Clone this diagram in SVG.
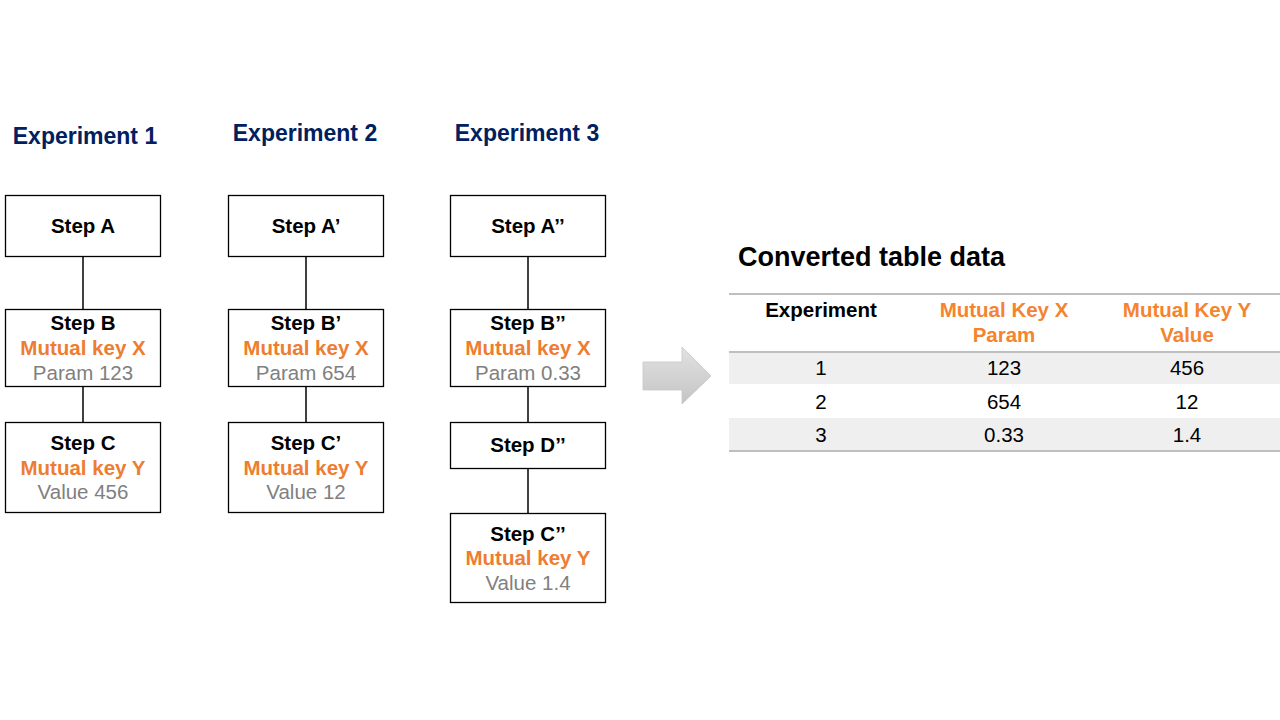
<svg xmlns="http://www.w3.org/2000/svg" width="1280" height="720" viewBox="0 0 1280 720">
<defs>
<style>
text{font-family:"Liberation Sans",Arial,sans-serif;text-anchor:middle}
.title{font-size:23px;font-weight:bold;fill:#002060}
.box{fill:#fff;stroke:#000;stroke-width:1.3}
.step{font-size:20.5px;font-weight:bold;fill:#000}
.key{font-size:20.5px;font-weight:bold;fill:#ED7D31}
.val{font-size:20.5px;fill:#808080}
.conn line{stroke:#000;stroke-width:1.5}
.th{font-size:20.5px;font-weight:bold;fill:#000}
.thk{font-size:20.5px;font-weight:bold;fill:#F4842F}
.td{font-size:20.5px;fill:#000}
.rule{stroke:#BFBFBF;stroke-width:2}
</style>
<linearGradient id="ag" x1="0" y1="0" x2="0" y2="1">
<stop offset="0" stop-color="#E2E2E2"/>
<stop offset="1" stop-color="#C4C4C4"/>
</linearGradient>
</defs>
<rect width="1280" height="720" fill="#fff"/>

<text class="title" x="85" y="144">Experiment 1</text>
<text class="title" x="305" y="141">Experiment 2</text>
<text class="title" x="527" y="141">Experiment 3</text>

<g class="conn" id="connectors">
<line x1="83" y1="256" x2="83" y2="309"/>
<line x1="83" y1="386" x2="83" y2="422"/>
<line x1="306" y1="256" x2="306" y2="309"/>
<line x1="306" y1="386" x2="306" y2="422"/>
<line x1="528" y1="256" x2="528" y2="309"/>
<line x1="528" y1="386" x2="528" y2="422"/>
<line x1="528" y1="468" x2="528" y2="513"/>
</g>

<g id="stepA">
<rect class="box" x="5.5" y="195.5" width="155" height="61"/>
<text class="step" x="83" y="233">Step A</text>
</g>
<g id="stepB">
<rect class="box" x="5.5" y="309.5" width="155" height="77"/>
<text class="step" x="83" y="330">Step B</text>
<text class="key" x="83" y="355">Mutual key X</text>
<text class="val" x="83" y="380">Param 123</text>
</g>
<g id="stepC">
<rect class="box" x="5.5" y="422.5" width="155" height="90"/>
<text class="step" x="83" y="450">Step C</text>
<text class="key" x="83" y="475">Mutual key Y</text>
<text class="val" x="83" y="499">Value 456</text>
</g>

<g id="stepA2">
<rect class="box" x="228.5" y="195.5" width="155" height="61"/>
<text class="step" x="306" y="233">Step A’</text>
</g>
<g id="stepB2">
<rect class="box" x="228.5" y="309.5" width="155" height="77"/>
<text class="step" x="306" y="330">Step B’</text>
<text class="key" x="306" y="355">Mutual key X</text>
<text class="val" x="306" y="380">Param 654</text>
</g>
<g id="stepC2">
<rect class="box" x="228.5" y="422.5" width="155" height="90"/>
<text class="step" x="306" y="450">Step C’</text>
<text class="key" x="306" y="475">Mutual key Y</text>
<text class="val" x="306" y="499">Value 12</text>
</g>

<g id="stepA3">
<rect class="box" x="450.5" y="195.5" width="155" height="61"/>
<text class="step" x="528" y="233">Step A’’</text>
</g>
<g id="stepB3">
<rect class="box" x="450.5" y="309.5" width="155" height="77"/>
<text class="step" x="528" y="330">Step B’’</text>
<text class="key" x="528" y="355">Mutual key X</text>
<text class="val" x="528" y="380">Param 0.33</text>
</g>
<g id="stepD3">
<rect class="box" x="450.5" y="422.5" width="155" height="46"/>
<text class="step" x="528" y="452">Step D’’</text>
</g>
<g id="stepC3">
<rect class="box" x="450.5" y="513.5" width="155" height="89"/>
<text class="step" x="528" y="541">Step C’’</text>
<text class="key" x="528" y="565">Mutual key Y</text>
<text class="val" x="528" y="590">Value 1.4</text>
</g>

<g id="arrow">
<polygon points="643,362 682,362 682,347 711,376 682,404 682,390 643,390" fill="url(#ag)" stroke="#C8C8C8" stroke-width="0.8"/>
</g>

<g id="table">
<text x="738" y="266" style="font-size:27px;font-weight:bold;fill:#000;text-anchor:start">Converted table data</text>
<rect x="729" y="352" width="551" height="32" fill="#EFEFEF"/>
<rect x="729" y="418" width="551" height="33" fill="#EFEFEF"/>
<line class="rule" x1="729" y1="294" x2="1280" y2="294"/>
<line class="rule" x1="729" y1="352" x2="1280" y2="352"/>
<line class="rule" x1="729" y1="451" x2="1280" y2="451"/>
<text class="th" x="821" y="317">Experiment</text>
<text class="thk" x="1004" y="317">Mutual Key X</text>
<text class="thk" x="1004" y="342">Param</text>
<text class="thk" x="1187" y="317">Mutual Key Y</text>
<text class="thk" x="1187" y="342">Value</text>
<text class="td" x="821" y="375">1</text>
<text class="td" x="1004" y="375">123</text>
<text class="td" x="1187" y="375">456</text>
<text class="td" x="821" y="409">2</text>
<text class="td" x="1004" y="409">654</text>
<text class="td" x="1187" y="409">12</text>
<text class="td" x="821" y="442">3</text>
<text class="td" x="1004" y="442">0.33</text>
<text class="td" x="1187" y="442">1.4</text>
</g>
</svg>
